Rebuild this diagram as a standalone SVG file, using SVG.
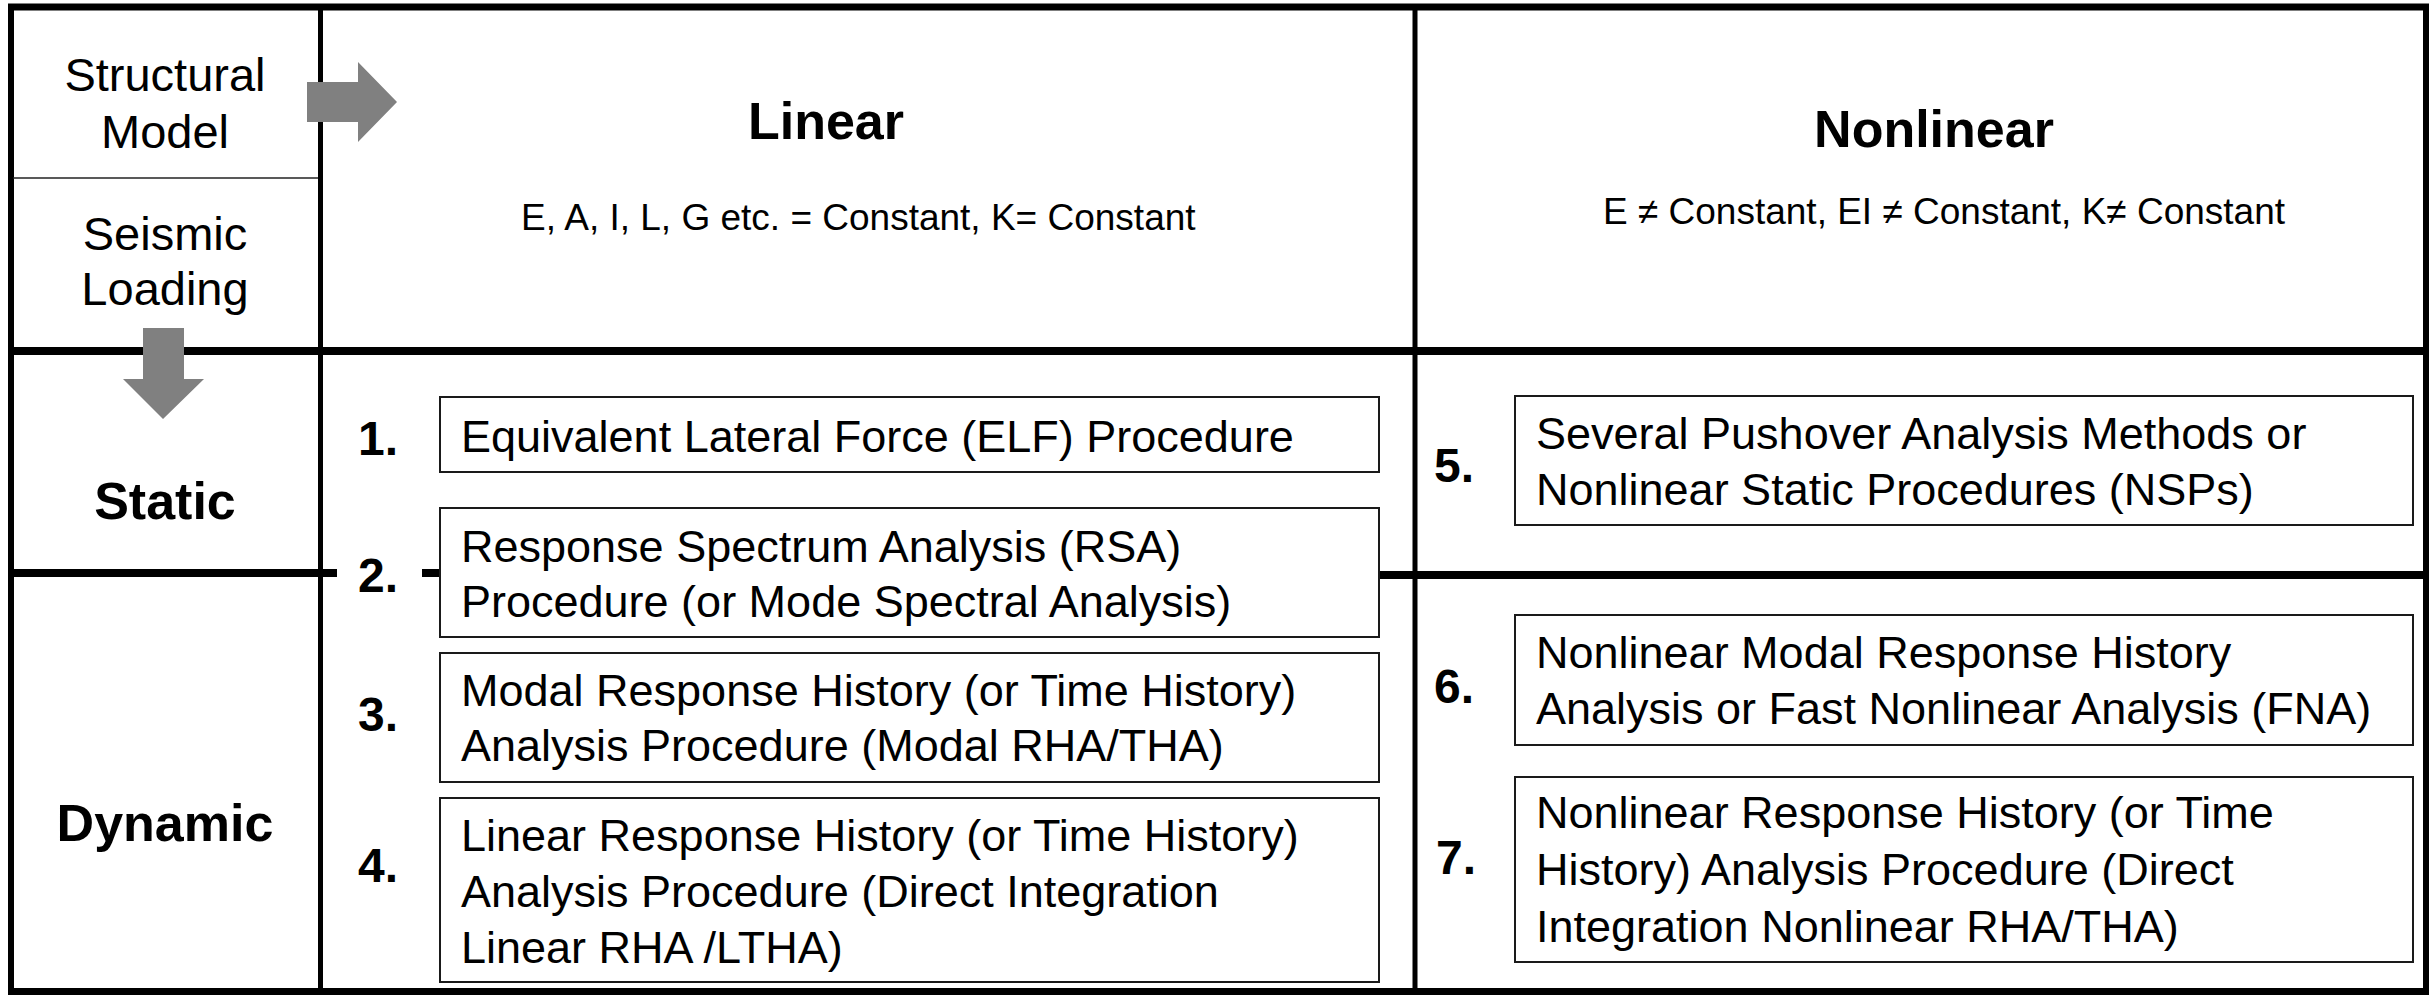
<svg xmlns="http://www.w3.org/2000/svg" width="2432" height="995" viewBox="0 0 2432 995">
  <style>
    .frame { stroke: #000; fill: none; }
    .thin { stroke: #222; stroke-width: 1.5; fill: none; }
    .box { fill: #fff; stroke: #1a1a1a; stroke-width: 2; }
    .txt { font-family: "Liberation Sans", Arial, sans-serif; fill: #000; }
    .body { font-size: 45px; }
    .side { font-size: 47px; text-anchor: middle; }
    .head { font-size: 52px; font-weight: bold; }
    .sub { font-size: 37px; }
    .num { font-size: 48px; font-weight: bold; }
    .arrow { fill: #808080; }
  </style>

  <rect x="0" y="0" width="2432" height="995" fill="#fff"/>

  <!-- table grid -->
  <g id="grid">
    <line class="frame" x1="8" y1="7" x2="2429" y2="7" stroke-width="7"/>
    <line class="frame" x1="8" y1="991.5" x2="2429" y2="991.5" stroke-width="7"/>
    <line class="frame" x1="11" y1="4" x2="11" y2="995" stroke-width="6"/>
    <line class="frame" x1="2426" y1="4" x2="2426" y2="995" stroke-width="6"/>
    <line class="frame" x1="320.5" y1="4" x2="320.5" y2="995" stroke-width="5"/>
    <line class="frame" x1="1415" y1="4" x2="1415" y2="995" stroke-width="5"/>
    <line class="frame" x1="8" y1="351" x2="2429" y2="351" stroke-width="8"/>
    <line class="thin" x1="13" y1="178" x2="318" y2="178"/>
    <!-- static / dynamic boundary, interrupted around item 2 -->
    <line class="frame" x1="8" y1="573" x2="337" y2="573" stroke-width="8"/>
    <line class="frame" x1="422" y1="573" x2="440" y2="573" stroke-width="8"/>
    <line class="frame" x1="1379" y1="575" x2="2429" y2="575" stroke-width="8"/>
  </g>

  <!-- row / column headings -->
  <g id="structural-model">
    <text class="txt side" x="165" y="91">Structural</text>
    <text class="txt side" x="165" y="148">Model</text>
  </g>
  <g id="seismic-loading">
    <text class="txt side" x="165" y="250">Seismic</text>
    <text class="txt side" x="165" y="305">Loading</text>
  </g>
  <g id="static">
    <text class="txt head" x="165" y="519" text-anchor="middle">Static</text>
  </g>
  <g id="dynamic">
    <text class="txt head" x="165" y="841" text-anchor="middle">Dynamic</text>
  </g>
  <g id="linear">
    <text class="txt head" x="826" y="139" text-anchor="middle">Linear</text>
    <text class="txt sub" x="521" y="230">E, A, I, L, G etc. = Constant, K= Constant</text>
  </g>
  <g id="nonlinear">
    <text class="txt head" x="1934" y="147" text-anchor="middle">Nonlinear</text>
    <text class="txt sub" x="1603" y="224">E ≠ Constant, EI ≠ Constant, K≠ Constant</text>
  </g>

  <!-- linear procedures -->
  <g id="proc-1">
    <text class="txt num" x="358" y="455">1.</text>
    <rect class="box" x="440" y="397" width="939" height="75"/>
    <text class="txt body" x="461" y="452">Equivalent Lateral Force (ELF) Procedure</text>
  </g>
  <g id="proc-2">
    <text class="txt num" x="358" y="592">2.</text>
    <rect class="box" x="440" y="508" width="939" height="129"/>
    <text class="txt body" x="461" y="562">Response Spectrum Analysis (RSA)</text>
    <text class="txt body" x="461" y="617">Procedure (or Mode Spectral Analysis)</text>
  </g>
  <g id="proc-3">
    <text class="txt num" x="358" y="731">3.</text>
    <rect class="box" x="440" y="653" width="939" height="129"/>
    <text class="txt body" x="461" y="706">Modal Response History (or Time History)</text>
    <text class="txt body" x="461" y="761">Analysis Procedure (Modal RHA/THA)</text>
  </g>
  <g id="proc-4">
    <text class="txt num" x="358" y="882">4.</text>
    <rect class="box" x="440" y="798" width="939" height="184"/>
    <text class="txt body" x="461" y="851">Linear Response History (or Time History)</text>
    <text class="txt body" x="461" y="907">Analysis Procedure (Direct Integration</text>
    <text class="txt body" x="461" y="963">Linear RHA /LTHA)</text>
  </g>

  <!-- nonlinear procedures -->
  <g id="proc-5">
    <text class="txt num" x="1434" y="482">5.</text>
    <rect class="box" x="1515" y="396" width="898" height="129"/>
    <text class="txt body" x="1536" y="449">Several Pushover Analysis Methods or</text>
    <text class="txt body" x="1536" y="505">Nonlinear Static Procedures (NSPs)</text>
  </g>
  <g id="proc-6">
    <text class="txt num" x="1434" y="703">6.</text>
    <rect class="box" x="1515" y="615" width="898" height="130"/>
    <text class="txt body" x="1536" y="668">Nonlinear Modal Response History</text>
    <text class="txt body" x="1536" y="724">Analysis or Fast Nonlinear Analysis (FNA)</text>
  </g>
  <g id="proc-7">
    <text class="txt num" x="1436" y="874">7.</text>
    <rect class="box" x="1515" y="777" width="898" height="185"/>
    <text class="txt body" x="1536" y="828">Nonlinear Response History (or Time</text>
    <text class="txt body" x="1536" y="885">History) Analysis Procedure (Direct</text>
    <text class="txt body" x="1536" y="942">Integration Nonlinear RHA/THA)</text>
  </g>

  <!-- block arrows -->
  <g id="connectors">
    <polygon class="arrow" points="307,82 358,82 358,62 397,102 358,142 358,122 307,122"/>
    <polygon class="arrow" points="143,328 184,328 184,379 204,379 163,419 123,379 143,379"/>
  </g>
</svg>
